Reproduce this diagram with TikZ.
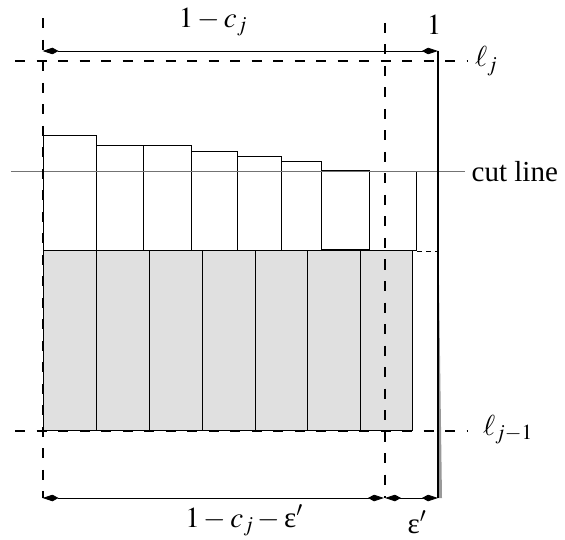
\documentclass[tikz,border=0pt]{standalone}
\usepackage{mathptmx}
\usepackage[no-math]{fontspec}
\setmainfont{Liberation Serif}
\usetikzlibrary{arrows.meta}
\tikzset{
  dimarrow/.style={line width=0.8pt,{Kite[length=16pt,width=6.5pt,inset=6pt]}-{Kite[length=16pt,width=6.5pt,inset=6pt]}},
  guide/.style={line width=2pt,dash pattern=on 10pt off 11.5pt},
  itembox/.style={draw,line width=1pt,fill=white},
  shadebox/.style={draw,line width=1pt,fill=black!12},
  lbl/.style={inner sep=0pt,anchor=base,font=\fontsize{29}{34}\selectfont}
}
\newcommand{\upeps}{\textnormal{ε}}
\begin{document}
\begin{tikzpicture}[x=1pt,y=-1pt]
\useasboundingbox (0,0) rectangle (565,540);
% shaded bottom row
\foreach \a/\b in {43.2/96.6,96.6/149.5,149.5/202.2,202.2/255.1,255.1/307.7,307.7/360.4,360.4/412.6}
  \draw[shadebox] (\a,251) rectangle (\b,430.7);
% top row of items
\foreach \a/\b/\t in {43.2/96.6/135.7,96.6/143.8/146,143.8/191.7/146,191.7/237.8/151.3,237.8/281.4/156.3,281.4/321.8/162,369.4/416.9/171.3}
  \draw[itembox] (\a,251) rectangle (\b,\t);
\draw[itembox] (321.8,250) rectangle (369.4,170.7);
% cut line
\coordinate (cutL) at (10.8,171);
\coordinate (cutR) at (465,171);
\draw[line width=0.8pt,black!55] (cutL) -- (cutR);
% thin dashed continuation
\coordinate (tdA) at (417,251.5);
\coordinate (tdB) at (438,251.5);
\draw[line width=0.6pt,dash pattern=on 5pt off 4pt] (tdA) -- (tdB);
% guides
\coordinate (vL1) at (42.5,18.3);
\coordinate (vL2) at (42.5,498);
\coordinate (vM1) at (385,23);
\coordinate (vM2) at (385,498);
\coordinate (hT1) at (15,61);
\coordinate (hT2) at (468,61);
\coordinate (hB1) at (15,430.7);
\coordinate (hB2) at (467,430.7);
\draw[guide] (vL1) -- (vL2);
\draw[guide] (vM1) -- (vM2);
\draw[guide] (hT1) -- (hT2);
\draw[guide] (hB1) -- (hB2);
% right bin edge
\coordinate (rT) at (438,51);
\coordinate (rB) at (438,498);
\fill[black!40] (438.5,250) -- (438.5,498) -- (442,498) -- cycle;
\draw[line width=1.8pt] (rT) -- (rB);
% dimension arrows
\coordinate (aT1) at (42.5,51);
\coordinate (aB1) at (42.5,498);
\coordinate (aB2) at (384,498);
\draw[dimarrow] (aT1) -- (rT);
\draw[dimarrow] (aB1) -- (aB2);
\draw[dimarrow] (vM2) -- (rB);
% labels
\node[lbl] (t1) at (213,27.5) {$1-c_j$};
\node[lbl] (t2) at (434,35) {$1$};
\node[lbl,anchor=base west] (t3) at (475,66.7) {$\ell_j$};
\node[lbl,anchor=base west] (t4) at (471.5,181.7) {cut line};
\node[lbl,anchor=base west] (t5) at (483,435) {$\ell_{j-1}$};
\node[lbl] (t6) at (244,527) {$1-c_j-\upeps'$};
\node[lbl] (t7) at (417,533) {$\upeps'$};
\end{tikzpicture}
\end{document}
